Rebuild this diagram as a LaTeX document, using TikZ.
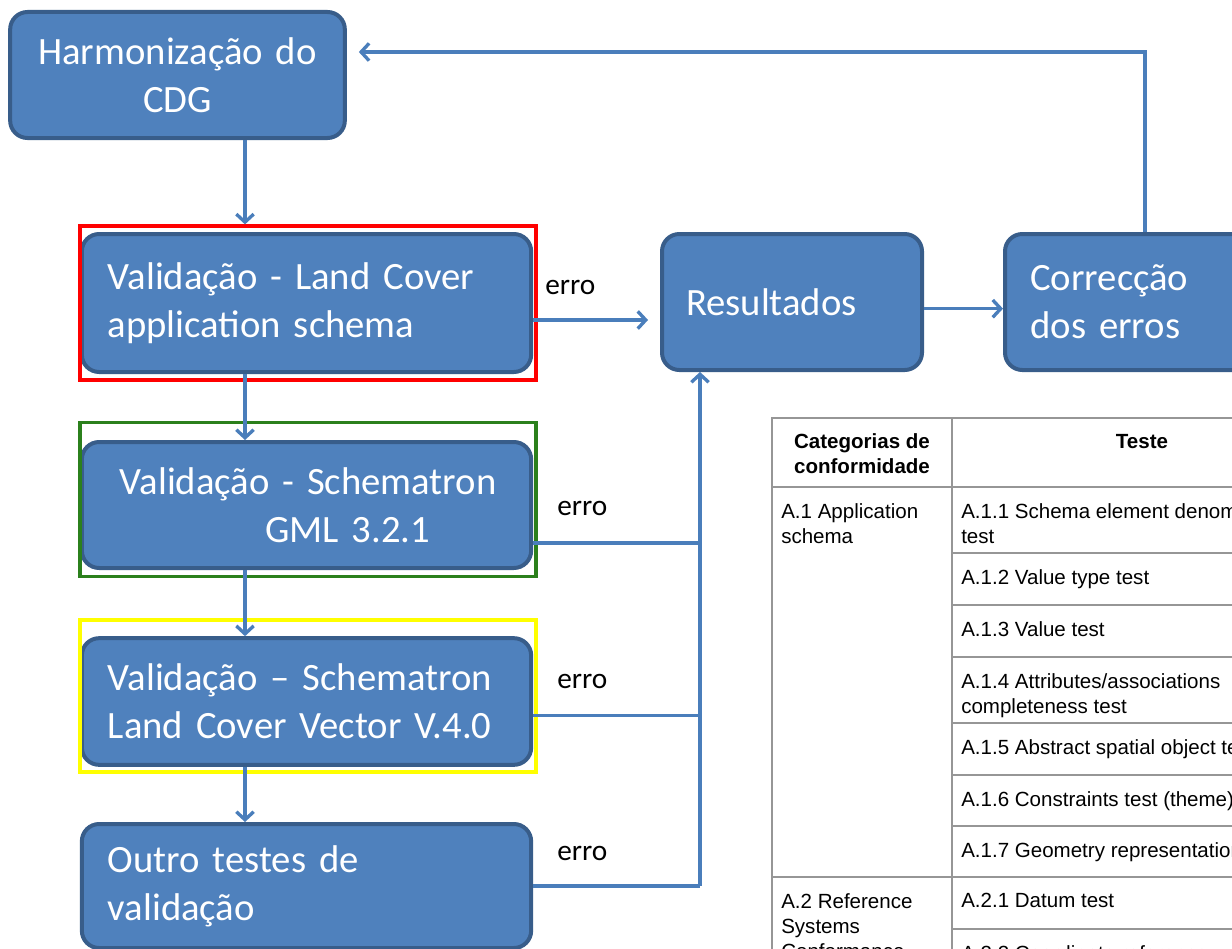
\documentclass[tikz,border=0pt]{standalone}
\usepackage{fontspec}
\setmainfont{Carlito}
\newfontfamily\tabfont{Liberation Sans}
\usetikzlibrary{arrows.meta, positioning, calc}
\definecolor{cdgfill}{RGB}{79,129,189}
\definecolor{cdgedge}{RGB}{56,93,138}
\definecolor{cdgarrow}{RGB}{74,126,187}
\definecolor{cdggreen}{RGB}{43,128,28}
\definecolor{cdgyellow}{RGB}{255,255,0}
\definecolor{cdggray}{RGB}{150,150,150}

\begin{document}
\begin{tikzpicture}[x=0.75pt, y=-0.75pt,
  box/.style={draw=cdgedge, fill=cdgfill, line width=3pt, rounded corners=13pt,
    text=white, font=\fontsize{29}{36}\selectfont, align=left, inner sep=0pt},
  flow/.style={draw=cdgarrow, line width=2.5pt, -{Straight Barb[length=6pt, width=13pt]}},
  link/.style={draw=cdgarrow, line width=2.5pt},
  markframe/.style={draw, line width=2.4pt, fill=none, inner sep=0pt},
  errlbl/.style={font=\fontsize{22}{26}\selectfont, anchor=west, inner sep=0pt},
  tabline/.style={draw=cdggray, line width=2pt},
  tabtext/.style={font=\tabfont\fontsize{15.4}{18.75}\selectfont, align=left,
    anchor=north west, inner sep=0pt},
  tabhead/.style={font=\tabfont\bfseries\fontsize{15.4}{18.75}\selectfont, align=center,
    inner sep=0pt}]

\useasboundingbox (0,0) rectangle (1232,949);
\clip (0,0) rectangle (1232,949);

% --- Process boxes ---
\node[box, align=center, minimum width=251pt, minimum height=94.5pt, text width=230pt]
      (harm) at (177.5,75) {Harmonização do\\CDG};
\node[box, minimum width=337pt, minimum height=103.5pt, text width=298pt]
      (valA) at (306.5,303) {Validação - Land Cover\\application schema};
\node[box, minimum width=337pt, minimum height=94.5pt, text width=298pt]
      (valB) at (306.5,505) {\hspace*{9pt}Validação - Schematron\\\hspace*{118pt}GML 3.2.1};
\node[box, minimum width=337pt, minimum height=95pt, text width=298pt]
      (valC) at (306.5,701.5) {Validação – Schematron\\Land Cover Vector V.4.0};
\node[box, minimum width=337pt, minimum height=93pt, text width=298pt]
      (valD) at (306.5,886) {Outro testes de\\validação};
\node[box, minimum width=195pt, minimum height=102pt, text width=159pt]
      (res) at (792,302) {Resultados};
\node[box, minimum width=195pt, minimum height=102pt, text width=157pt]
      (cor) at (1135,302) {Correcção\\dos erros};

% --- Coloured frames round the validations ---
\node[markframe, red, minimum width=342pt, minimum height=115.5pt] (frA) at (308,303) {};
\node[markframe, cdggreen, minimum width=342pt, minimum height=116pt] (frB) at (308,499.5) {};
\node[markframe, cdgyellow, minimum width=342pt, minimum height=114pt] (frC) at (308,696) {};

% --- Main flow ---
\coordinate (spine) at (245,0);
\coordinate (bus) at (700,0);
\coordinate (back) at (1145,0);
\draw[flow] (harm.south -| spine) -- (frA.north -| spine);
\draw[flow] (valA.south -| spine) -- (valB.north -| spine);
\draw[flow] (valB.south -| spine) -- (valC.north -| spine);
\draw[flow] (valC.south -| spine) -- (valD.north -| spine);

% erro branches
\draw[flow, shorten >=9pt] ([yshift=-12.75pt]valA.east) -- ([yshift=-12.75pt]valA.east -| res.west);
\draw[link] ([yshift=-28.5pt]valB.east) -- ([yshift=-28.5pt]valB.east -| bus);
\draw[link] ([yshift=-10.5pt]valC.east) -- ([yshift=-10.5pt]valC.east -| bus);
\draw[link] (valD.east) -- (valD.east -| bus);
\draw[flow] (bus |- valD.east) -- (bus |- res.south);

\node[errlbl] (erroA) at (545,287) {erro};
\node[errlbl] (erroB) at (557,508) {erro};
\node[errlbl] (erroC) at (557,681) {erro};
\node[errlbl] (erroD) at (557,853) {erro};

% results -> correction -> back to harmonization
\draw[flow] ([yshift=-5pt]res.east) -- ([yshift=-5pt]cor.west);
\draw[flow, shorten >=9pt] (cor.north -| back) |- ([yshift=17.25pt]harm.east);

% --- Conformance table ---
\draw[tabline] (772,1000) -- (772,418) -- (1300,418);
\draw[tabline] (952,418) -- (952,1000);
\foreach \y in {487,877}
  \draw[tabline] (772,\y) -- (1300,\y);
\foreach \y in {553,605,657,723,775,826,929}
  \draw[tabline] (952,\y) -- (1300,\y);

\node[tabhead] (thcat) at (862,454) {Categorias de\\conformidade};
\node[tabhead] (thtest) at (1142,442) {Teste};

\node[tabtext] (catA) at (781,503) {A.1 Application\\schema};
\node[tabtext] (catB) at (781,893) {A.2 Reference\\Systems\\Conformance};

\node[tabtext] (tA1) at (961,503) {A.1.1 Schema element denomination\\test};
\node[tabtext] (tA2) at (961,569) {A.1.2 Value type test};
\node[tabtext] (tA3) at (961,621) {A.1.3 Value test};
\node[tabtext] (tA4) at (961,673) {A.1.4 Attributes/associations\\completeness test};
\node[tabtext] (tA5) at (961,739) {A.1.5 Abstract spatial object test};
\node[tabtext] (tA6) at (961,791) {A.1.6 Constraints test (theme)};
\node[tabtext] (tA7) at (961,842) {A.1.7 Geometry representation test};
\node[tabtext] (tB1) at (961,893) {A.2.1 Datum test};
\node[tabtext] (tB2) at (961,945) {A.2.2 Coordinate reference system test};

\end{tikzpicture}
\end{document}
